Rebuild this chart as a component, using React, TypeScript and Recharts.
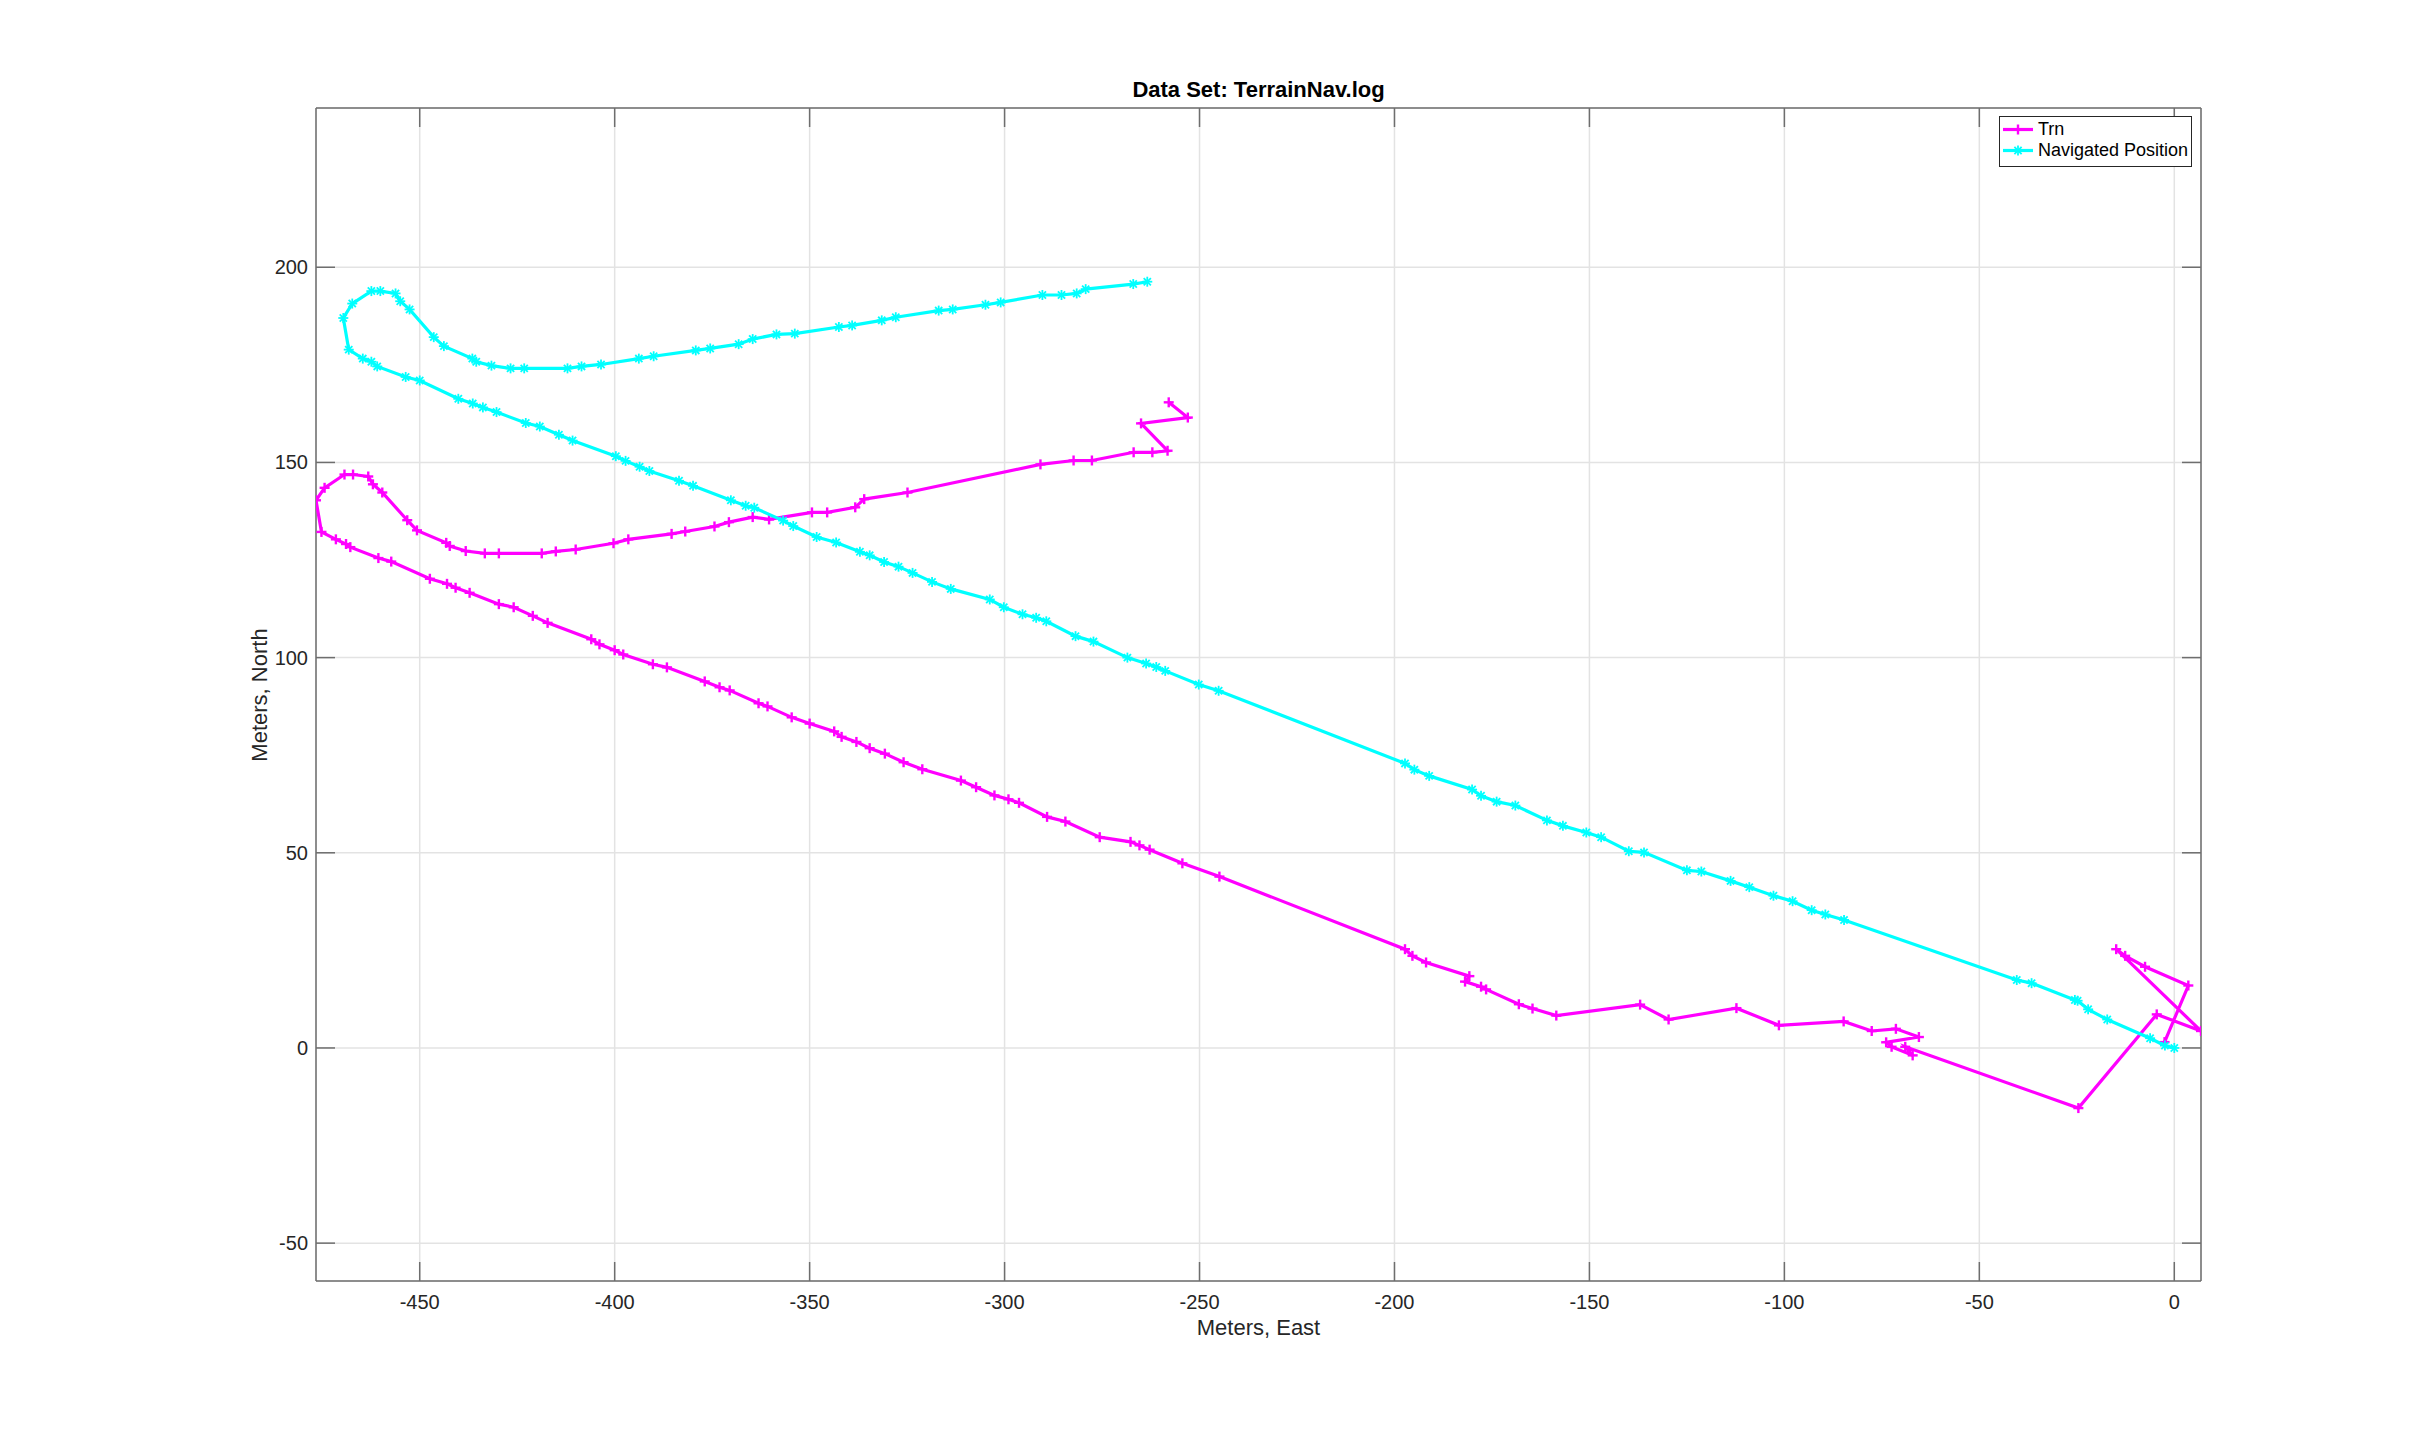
import React from 'react';
import { ScatterChart, Scatter, XAxis, YAxis, CartesianGrid } from 'recharts';

// Trn fixes, in log order (east, north in meters)
const trnEast = [
  -2.5, 3.6, -7.5, -12.6, -14.9, 6.85, -4.5, -24.6, -69.0, -67.1, -72.5, -73.9, -65.5, -71.4, -77.6,
  -84.8, -101.4, -112.3, -129.7, -137.0, -158.5, -164.6, -168.1, -176.5, -177.8, -181.9, -180.8, -191.9,
  -195.4, -197.3, -244.9, -254.4, -262.8, -265.4, -267.7, -275.6, -284.4, -289.1, -296.3, -299.0, -302.6,
  -307.3, -311.2, -321.1, -325.9, -330.7, -334.6, -338.0, -341.8, -343.7, -350.0, -354.6, -360.8, -363.1,
  -370.5, -373.1, -376.9, -386.6, -390.2, -397.8, -400.0, -403.9, -406.0, -417.2, -421.0, -425.9, -429.7,
  -437.2, -440.8, -443.0, -447.4, -457.3, -460.6, -467.8, -468.9, -471.5, -475.2, -476.6, -474.4, -469.3,
  -467.1, -463.2, -462.0, -459.6, -453.2, -450.7, -443.2, -442.3, -438.2, -433.3, -429.7, -418.7, -415.1,
  -410.0, -400.3, -396.5, -385.4, -381.9, -374.4, -370.7, -364.6, -360.4, -349.4, -345.5, -338.3, -336.0,
  -324.9, -290.8, -282.3, -277.6, -266.9, -262.1, -258.2, -265.0, -253.0, -257.9,
];
const trnNorth = [
  1.5, 16.0, 20.8, 23.6, 25.3, 4.35, 8.6, -15.4, 0.3, -1.9, 0.3, 1.45, 2.8, 4.9, 4.35,
  6.8, 5.8, 10.2, 7.3, 11.1, 8.3, 10.1, 11.2, 15.0, 15.7, 17.0, 18.4, 21.9,
  23.6, 25.3, 43.9, 47.3, 50.8, 51.9, 52.8, 54.0, 58.0, 59.2, 62.8, 63.7, 64.7,
  66.8, 68.5, 71.4, 73.2, 75.4, 76.8, 78.4, 79.7, 81.1, 83.1, 84.7, 87.5, 88.3,
  91.6, 92.4, 93.9, 97.5, 98.3, 100.8, 101.9, 103.4, 104.7, 108.9, 110.7, 112.9, 113.7,
  116.6, 117.9, 118.9, 120.2, 124.6, 125.5, 128.3, 129.1, 130.3, 132.2, 140.3, 143.5, 146.9,
  146.9, 146.4, 144.4, 142.3, 135.2, 132.6, 129.4, 128.6, 127.3, 126.7, 126.7, 126.7, 127.2,
  127.7, 129.3, 130.3, 131.7, 132.3, 133.6, 134.7, 136.0, 135.4, 137.2, 137.2, 138.5, 140.6,
  142.3, 149.5, 150.5, 150.5, 152.6, 152.6, 153.0, 160.0, 161.5, 165.4,
];

// Navigated position, in log order
const navEast = [
  0, -2.4, -6.2, -17.2, -22.1, -24.8, -25.5, -36.6, -40.4, -84.7, -89.5, -93.0, -97.9, -102.8, -109.0,
  -113.8, -121.3, -125.0, -136.0, -139.9, -147.0, -150.8, -156.8, -160.9, -169.0, -173.8, -177.8, -180.1,
  -191.1, -194.9, -197.3, -245.1, -250.2, -258.8, -261.1, -263.7, -268.5, -277.2, -281.8, -289.3, -291.9,
  -295.4, -300.2, -303.8, -313.8, -318.6, -323.6, -327.2, -330.9, -334.6, -337.1, -343.2, -348.2, -354.2,
  -356.8, -364.2, -366.4, -370.2, -379.9, -383.5, -391.1, -393.6, -397.2, -399.7, -410.8, -414.3, -419.2,
  -422.8, -430.3, -433.8, -436.4, -440.1, -450.0, -453.6, -460.9, -462.4, -464.6, -468.2, -469.6, -467.3,
  -462.4, -460.1, -456.2, -455.0, -452.6, -446.4, -443.8, -436.5, -435.5, -431.6, -426.7, -423.2, -412.1,
  -408.5, -403.5, -393.8, -390.0, -379.2, -375.5, -368.2, -364.6, -358.5, -353.8, -342.5, -339.1, -331.5,
  -327.9, -316.9, -313.3, -304.9, -301.0, -290.3, -285.4, -281.5, -279.2, -267.0, -263.4,
];
const navNorth = [
  0, 0.6, 2.5, 7.3, 9.9, 12.1, 12.3, 16.6, 17.4, 32.8, 34.2, 35.3, 37.6, 39.0, 41.2,
  42.8, 45.2, 45.5, 50.1, 50.4, 54.0, 55.2, 56.9, 58.3, 62.1, 63.1, 64.6, 66.2,
  69.7, 71.3, 72.9, 91.5, 93.1, 96.6, 97.6, 98.5, 100.0, 104.1, 105.5, 109.3, 110.2,
  111.1, 112.9, 114.9, 117.6, 119.4, 121.7, 123.3, 124.5, 126.2, 127.1, 129.5, 130.9, 133.7,
  135.1, 138.4, 138.9, 140.3, 144.0, 145.3, 147.8, 148.9, 150.4, 151.6, 155.6, 157.1, 159.2,
  160.1, 162.9, 164.1, 165.1, 166.3, 171.0, 171.9, 174.6, 175.8, 176.6, 178.9, 187.0, 190.7,
  193.9, 193.9, 193.3, 191.3, 189.2, 182.1, 179.8, 176.6, 175.8, 174.8, 174.1, 174.1, 174.1,
  174.6, 175.1, 176.6, 177.2, 178.7, 179.2, 180.3, 181.6, 182.8, 183.0, 184.7, 185.1, 186.4,
  187.2, 188.9, 189.2, 190.4, 191.0, 192.9, 192.9, 193.3, 194.4, 195.7, 196.3,
];

const xTicks = [-450, -400, -350, -300, -250, -200, -150, -100, -50, 0];
const yTicks = [-50, 0, 50, 100, 150, 200];
const xDomain: [number, number] = [-476.6, 6.85];
const yDomain: [number, number] = [-59.7, 240.8];

const trnData = trnEast.map((e, i) => ({ east: e, north: trnNorth[i] }));
const navData = navEast.map((e, i) => ({ east: e, north: navNorth[i] }));

const W = 2432;
const H = 1440;
const PLOT = { left: 316, top: 108, right: 2201, bottom: 1281 };
const TICK_LEN = 19;
const AXIS_COLOR = '#6e6e6e';
const TEXT_COLOR = '#262626';
const FONT = '"Liberation Sans", Arial, Helvetica, sans-serif';
const MAGENTA = '#ff00ff';
const CYAN = '#00ffff';
const LINE_W = 3.2;

const PlusMarker = ({ cx, cy, color }: any) => (
  <g stroke={color} strokeWidth={2.4}>
    <line x1={cx - 5} x2={cx + 5} y1={cy} y2={cy} />
    <line x1={cx} x2={cx} y1={cy - 5} y2={cy + 5} />
  </g>
);

const StarMarker = ({ cx, cy, color }: any) => (
  <g stroke={color} strokeWidth={1.8}>
    <line x1={cx - 5} x2={cx + 5} y1={cy} y2={cy} />
    <line x1={cx} x2={cx} y1={cy - 5} y2={cy + 5} />
    <line x1={cx - 3.6} x2={cx + 3.6} y1={cy - 3.6} y2={cy + 3.6} />
    <line x1={cx - 3.6} x2={cx + 3.6} y1={cy + 3.6} y2={cy - 3.6} />
  </g>
);

const BottomTick = (p: any) => (
  <g>
    <line x1={p.x} x2={p.x} y1={PLOT.bottom} y2={PLOT.bottom - TICK_LEN} stroke={AXIS_COLOR} strokeWidth={1.5} />
    <text x={p.x} y={PLOT.bottom + 28} textAnchor="middle" fontSize={20} fill={TEXT_COLOR} fontFamily={FONT}>
      {p.payload.value}
    </text>
  </g>
);

const TopTick = (p: any) => (
  <line x1={p.x} x2={p.x} y1={PLOT.top} y2={PLOT.top + TICK_LEN} stroke={AXIS_COLOR} strokeWidth={1.5} />
);

const LeftTick = (p: any) => (
  <g>
    <line x1={PLOT.left} x2={PLOT.left + TICK_LEN} y1={p.y} y2={p.y} stroke={AXIS_COLOR} strokeWidth={1.5} />
    <text x={PLOT.left - 8} y={p.y + 7} textAnchor="end" fontSize={20} fill={TEXT_COLOR} fontFamily={FONT}>
      {p.payload.value}
    </text>
  </g>
);

const RightTick = (p: any) => (
  <line x1={PLOT.right} x2={PLOT.right - TICK_LEN} y1={p.y} y2={p.y} stroke={AXIS_COLOR} strokeWidth={1.5} />
);

const LegendRow = ({ color, label, star }: { color: string; label: string; star?: boolean }) => (
  <div style={{ display: 'flex', alignItems: 'center', height: 21 }}>
    <svg width={34} height={21} style={{ flex: 'none' }}>
      <line x1={3} x2={33} y1={10.5} y2={10.5} stroke={color} strokeWidth={LINE_W} />
      {star ? <StarMarker cx={18} cy={10.5} color={color} /> : <PlusMarker cx={18} cy={10.5} color={color} />}
    </svg>
    <span style={{ marginLeft: 4, fontSize: 18, color: '#000' }}>{label}</span>
  </div>
);

// axes need a non-zero size to be drawn, so each takes 1px of the margin
export default function App() {
  return (
    <div style={{ position: 'absolute', left: 0, top: 0, width: W, height: H, background: '#fff', fontFamily: FONT }}>
      <ScatterChart
        width={W}
        height={H}
        margin={{ top: PLOT.top - 1, left: PLOT.left - 1, right: W - PLOT.right - 1, bottom: H - PLOT.bottom - 1 }}
      >
        <CartesianGrid xAxisId="b" yAxisId="l" stroke="#e3e3e3" strokeWidth={1.5} />
        <XAxis
          xAxisId="b"
          dataKey="east"
          type="number"
          domain={xDomain}
          ticks={xTicks}
          allowDataOverflow
          height={1}
          axisLine={{ stroke: AXIS_COLOR, strokeWidth: 1.5 }}
          tickLine={false}
          tick={BottomTick}
        />
        <XAxis
          xAxisId="t"
          orientation="top"
          dataKey="east"
          type="number"
          domain={xDomain}
          ticks={xTicks}
          allowDataOverflow
          height={1}
          axisLine={{ stroke: AXIS_COLOR, strokeWidth: 1.5 }}
          tickLine={false}
          tick={TopTick}
        />
        <YAxis
          yAxisId="l"
          dataKey="north"
          type="number"
          domain={yDomain}
          ticks={yTicks}
          allowDataOverflow
          width={1}
          axisLine={{ stroke: AXIS_COLOR, strokeWidth: 1.5 }}
          tickLine={false}
          tick={LeftTick}
        />
        <YAxis
          yAxisId="r"
          orientation="right"
          dataKey="north"
          type="number"
          domain={yDomain}
          ticks={yTicks}
          allowDataOverflow
          width={1}
          axisLine={{ stroke: AXIS_COLOR, strokeWidth: 1.5 }}
          tickLine={false}
          tick={RightTick}
        />
        <Scatter
          name="Trn"
          data={trnData}
          xAxisId="b"
          yAxisId="l"
          fill={MAGENTA}
          line={{ stroke: MAGENTA, strokeWidth: LINE_W }}
          lineJointType="linear"
          shape={(p: any) => <PlusMarker cx={p.cx} cy={p.cy} color={MAGENTA} />}
          isAnimationActive={false}
        />
        <Scatter
          name="Navigated Position"
          data={navData}
          xAxisId="b"
          yAxisId="l"
          fill={CYAN}
          line={{ stroke: CYAN, strokeWidth: LINE_W }}
          lineJointType="linear"
          shape={(p: any) => <StarMarker cx={p.cx} cy={p.cy} color={CYAN} />}
          isAnimationActive={false}
        />
      </ScatterChart>

      {/* title and axis labels */}
      <div
        style={{
          position: 'absolute', left: PLOT.left, width: PLOT.right - PLOT.left, top: 77,
          textAlign: 'center', fontSize: 22, fontWeight: 'bold', color: '#000', lineHeight: '26px',
        }}
      >
        Data Set: TerrainNav.log
      </div>
      <div
        style={{
          position: 'absolute', left: PLOT.left, width: PLOT.right - PLOT.left, top: 1315,
          textAlign: 'center', fontSize: 22, color: TEXT_COLOR, lineHeight: '26px',
        }}
      >
        Meters, East
      </div>
      <div style={{ position: 'absolute', left: 260, top: 695, width: 0, height: 0 }}>
        <div
          style={{
            position: 'absolute', left: -150, top: -13, width: 300, textAlign: 'center',
            fontSize: 22, color: TEXT_COLOR, lineHeight: '26px', transform: 'rotate(-90deg)',
          }}
        >
          Meters, North
        </div>
      </div>

      {/* legend */}
      <div
        style={{
          position: 'absolute', left: 1999, top: 116, width: 191, height: 47,
          border: '1px solid #262626', background: '#fff', padding: '2px 0 0 0', boxSizing: 'content-box',
        }}
      >
        <LegendRow color={MAGENTA} label="Trn" />
        <LegendRow color={CYAN} label="Navigated Position" star />
      </div>
    </div>
  );
}
